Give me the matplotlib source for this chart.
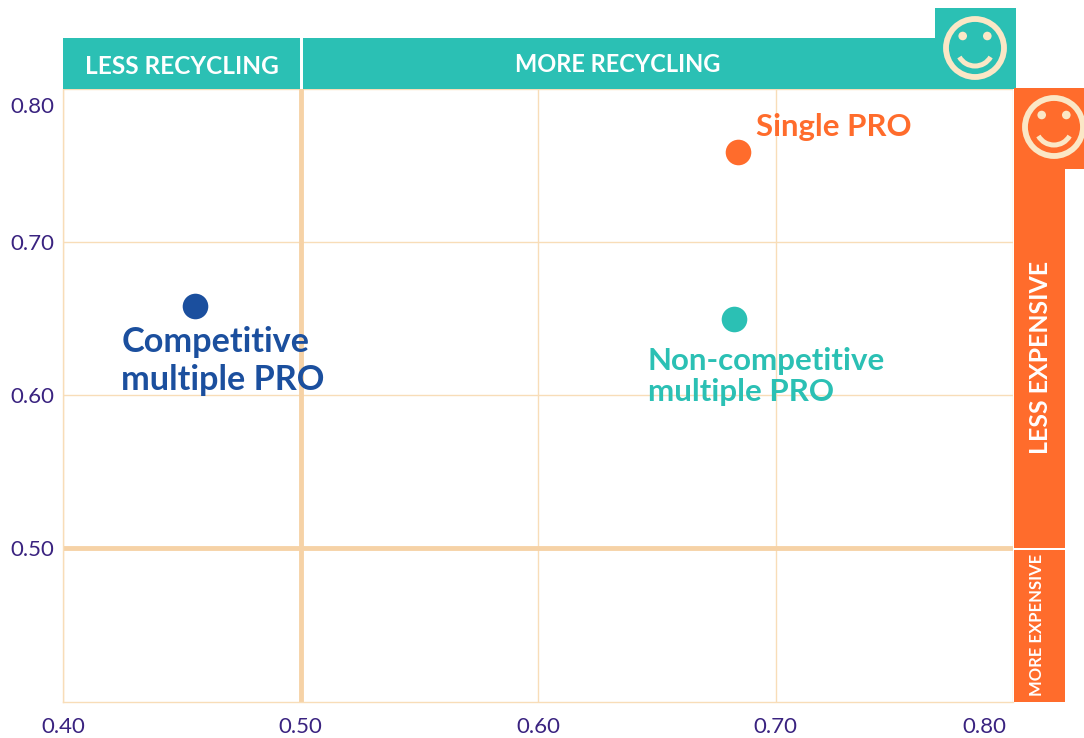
import matplotlib
matplotlib.use('Agg')
import matplotlib.pyplot as plt
from matplotlib.patches import Rectangle, Circle, Arc
from matplotlib.transforms import ScaledTranslation

# values
names = ['Single PRO', 'Competitive\nmultiple PRO', 'Non-competitive\nmultiple PRO']
recycling = [0.684, 0.4556, 0.6825]
cost = [0.759, 0.6585, 0.6495]
colors = ['#FF6C2C', '#1B4F9E', '#2BC0B4']
label_offsets = [(13, 18), (-53, -14.5), (-62, -20)]
label_sizes = [22.4, 24.7, 22.5]
label_spacing = [1.0, 1.22, 1.11]
ticks = [0.40, 0.50, 0.60, 0.70, 0.80]

TEAL = '#2BC0B4'
ORANGE = '#FF6C2C'
CREAM = '#FBE7C6'
GRID = '#F8DDB8'
THICK = '#F6D2A6'
INK = '#3A2380'

plt.rcParams['font.family'] = ['Lato', 'DejaVu Sans']

W, H = 1084, 738
fig = plt.figure(figsize=(W / 100, H / 100), dpi=100)

# main plot: 63..1013 px wide, 89..701.5 px down
ax = fig.add_axes([63 / W, 1 - 701.5 / H, (1013 - 63) / W, (701.5 - 89) / H])
ax.set_xlim(0.40, 0.80)
ax.set_ylim(0.40, 0.80)
for s in ['top', 'right']:
    ax.spines[s].set_visible(False)
for s in ['left', 'bottom']:
    ax.spines[s].set_color(GRID)
    ax.spines[s].set_linewidth(1)
ax.set_xticks(ticks)
ax.set_yticks(ticks[1:])
ax.set_xticklabels(['%.2f' % t for t in ticks], color=INK, fontsize=16)
ax.set_yticklabels(['%.2f' % t for t in ticks[1:]], color=INK, fontsize=16)
ax.tick_params(axis='x', length=0, pad=11)
ax.tick_params(axis='y', length=0, pad=6.5)

# the 0.80 labels sit inside the corner in the original
last_x = ax.xaxis.get_ticklabels()[-1]
last_x.set_transform(last_x.get_transform() + ScaledTranslation(-29 / 100, 0, fig.dpi_scale_trans))
last_y = ax.yaxis.get_ticklabels()[-1]
last_y.set_transform(last_y.get_transform() + ScaledTranslation(0, -16 / 100, fig.dpi_scale_trans))

ax.grid(True, color=GRID, linewidth=1)
ax.set_axisbelow(True)
ax.axvline(0.50, color=THICK, linewidth=3.5, zorder=1)
ax.axhline(0.50, color=THICK, linewidth=3.5, zorder=1)

for i in range(len(names)):
    ax.scatter(recycling[i], cost[i], s=340, color=colors[i], linewidths=0, zorder=3, clip_on=False)
    ax.annotate(names[i], (recycling[i], cost[i]), xytext=label_offsets[i], textcoords='offset points',
                color=colors[i], fontsize=label_sizes[i], fontweight='bold', ha='left', va='top' if i else 'center',
                linespacing=label_spacing[i], zorder=4)

# decorations in pixel coordinates
deco = fig.add_axes([0, 0, 1, 1], zorder=5)
deco.set_xlim(0, W)
deco.set_ylim(H, 0)
deco.axis('off')
deco.patch.set_alpha(0)


def box(x0, y0, x1, y1, c):
    deco.add_patch(Rectangle((x0, y0), x1 - x0, y1 - y0, facecolor=c, edgecolor='none'))


def smiley(cx, cy, bg):
    deco.add_patch(Circle((cx, cy), 29, facecolor=bg, edgecolor=CREAM, linewidth=4.2))
    deco.add_patch(Circle((cx - 12.3, cy - 12), 4.3, facecolor=CREAM, edgecolor='none'))
    deco.add_patch(Circle((cx + 12.3, cy - 12), 4.3, facecolor=CREAM, edgecolor='none'))
    deco.add_patch(Arc((cx, cy), 36, 36, theta1=30, theta2=150, color=CREAM, linewidth=3.6))


box(63, 38, 300, 89, TEAL)
box(303, 38, 1016, 89, TEAL)
box(935, 8, 1016, 89, TEAL)
box(1014, 88, 1084, 169, ORANGE)
box(1014, 169, 1065, 548, ORANGE)
box(1014, 549.5, 1065, 702, ORANGE)
smiley(975, 48, TEAL)
smiley(1054, 127, ORANGE)

deco.text(181.5, 67, 'LESS RECYCLING', color='white', fontsize=17.6, fontweight='bold', ha='center', va='center')
deco.text(617.5, 65, 'MORE RECYCLING', color='white', fontsize=17, fontweight='bold', ha='center', va='center')
deco.text(1040, 357, 'LESS EXPENSIVE', color='white', fontsize=17.9, fontweight='bold', ha='center', va='center', rotation=90)
deco.text(1037, 625, 'MORE EXPENSIVE', color='white', fontsize=12, fontweight='bold', ha='center', va='center', rotation=90)

fig.savefig('out.png', dpi=100)
